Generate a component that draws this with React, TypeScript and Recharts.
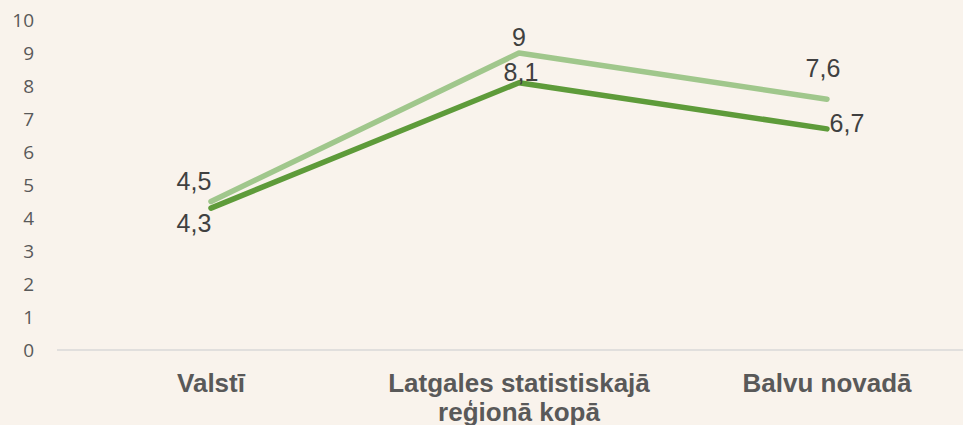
import { LineChart, Line, XAxis, YAxis, LabelList } from 'recharts';

const categories = ['Valstī', 'Latgales statistiskajā reģionā kopā', 'Balvu novadā'];
const categoryLines = [['Valstī'], ['Latgales statistiskajā', 'reģionā kopā'], ['Balvu novadā']];
const lightSeries = [4.5, 9, 7.6];
const darkSeries = [4.3, 8.1, 6.7];
const yTicks = [0, 1, 2, 3, 4, 5, 6, 7, 8, 9, 10];

const data = categories.map((name, i) => ({ name, light: lightSeries[i], dark: darkSeries[i] }));

// label offsets relative to each point (dx, dy to text center)
const lightOffsets = [[-17, -20], [0, -16], [-4, -31]];
const darkOffsets = [[-17, 15], [2, -11], [20, -6]];

const fmt = (v: number) => String(v).replace('.', ',');

function makeLabel(offsets: number[][]) {
    return (props: any) => {
        const { x, y, value, index } = props;
        const [dx, dy] = offsets[index] || [0, 0];
        return (
            <text x={x + dx} y={y + dy} dy="0.355em" textAnchor="middle"
                fontFamily="'Liberation Sans', Arial, sans-serif" fontSize={25} fill="#404040">
                {fmt(value)}
            </text>
        );
    };
}

function CategoryTick(props: any) {
    const { x, y, index } = props;
    const lines = categoryLines[index] || [];
    return (
        <text x={x} y={y + 34} textAnchor="middle"
            fontFamily="'Liberation Sans', Arial, sans-serif" fontWeight="bold" fontSize={26} fill="#595959">
            {lines.map((l, i) => (
                <tspan key={i} x={x} dy={i === 0 ? 0 : 29}>{l}</tspan>
            ))}
        </text>
    );
}

export default function App() {
    return (
        <div style={{ position: 'absolute', left: 0, top: 0, width: 963, height: 425, overflow: 'hidden', background: '#f9f3ec' }}>
            <LineChart width={981} height={425} data={data} margin={{ top: 20, right: 0, bottom: 0, left: 0 }}>
                <XAxis dataKey="name" height={75} tickLine={false} interval={0} padding={{ left: 154, right: 154 }}
                    axisLine={{ stroke: '#d9d9d9', strokeWidth: 1.5 }} tick={<CategoryTick />} />
                <YAxis width={57} domain={[0, 10]} ticks={yTicks} axisLine={false} tickLine={false}
                    tickSize={0} tickMargin={23} interval={0}
                    tick={{ fill: '#595959', fontSize: 19, fontFamily: "'Open Sans', sans-serif" }} />
                <Line dataKey="light" stroke="#a0c78c" strokeWidth={5.5} strokeLinecap="round" strokeLinejoin="round" dot={false} isAnimationActive={false}>
                    <LabelList dataKey="light" content={makeLabel(lightOffsets)} />
                </Line>
                <Line dataKey="dark" stroke="#5e9b3a" strokeWidth={5.5} strokeLinecap="round" strokeLinejoin="round" dot={false} isAnimationActive={false}>
                    <LabelList dataKey="dark" content={makeLabel(darkOffsets)} />
                </Line>
            </LineChart>
        </div>
    );
}
